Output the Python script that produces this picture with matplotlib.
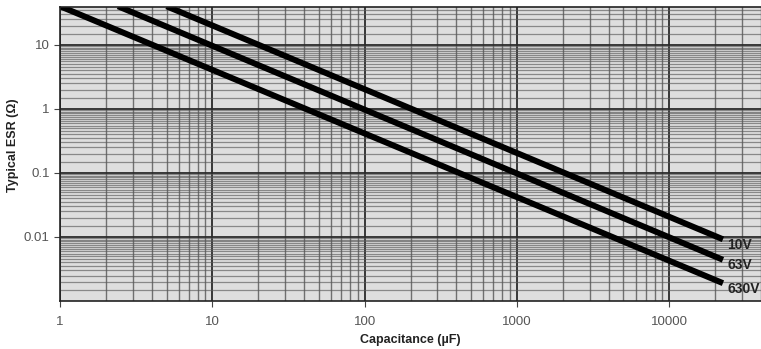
import matplotlib.pyplot as plt
import matplotlib.ticker as ticker
import numpy as np

plt.rcParams['font.family'] = ['Liberation Sans', 'DejaVu Sans']

# ESR falls roughly as 1/C
cap_10v = [5.0, 22500]
esr_10v = [40.0, 0.0092]
cap_63v = [2.4, 22500]
esr_63v = [40.0, 0.0044]
cap_630v = [1.0, 22500]
esr_630v = [40.0, 0.0019]
series_labels = ["10V", "63V", "630V"]

x_ticks = [1, 10, 100, 1000, 10000]
x_ticklabels = ["1", "10", "100", "1000", "10000"]
y_ticks = [0.01, 0.1, 1, 10]
y_ticklabels = ["0.01", "0.1", "1", "10"]

fig = plt.figure(figsize=(7.61, 3.49), dpi=100)
ax = fig.add_axes([0.079, 0.1375, 0.921, 0.8425])
ax.set_facecolor("#dedede")

ax.set_xscale("log")
ax.set_yscale("log")
ax.set_xlim(1, 40000)
ax.set_ylim(0.001, 39)

# grid: decades dark, 2..9 medium, half steps light
ax.xaxis.set_minor_locator(ticker.LogLocator(base=10, subs=np.arange(2, 10)))
ax.yaxis.set_minor_locator(ticker.LogLocator(base=10, subs=np.arange(1.5, 10, 0.5)))
ax.xaxis.set_minor_formatter(ticker.NullFormatter())
ax.yaxis.set_minor_formatter(ticker.NullFormatter())
ax.grid(True, which="major", color="#2a2a2a", lw=1.3)
ax.grid(True, which="minor", axis="x", color="#555555", lw=1.0, alpha=0.8)
ax.grid(True, which="minor", axis="y", color="#5a5a5a", lw=0.9, alpha=0.65)
ax.set_axisbelow(True)

for cap, esr in [(cap_10v, esr_10v), (cap_63v, esr_63v), (cap_630v, esr_630v)]:
    ax.plot(cap, esr, color="black", lw=4.3, solid_capstyle="butt")

for cap, esr, lab in zip([cap_10v, cap_63v, cap_630v], [esr_10v, esr_63v, esr_630v], series_labels):
    ax.annotate(lab, (cap[-1], esr[-1]), xytext=(3, -4), textcoords="offset points",
                fontsize=10, fontweight="bold", color="#222222", va="center", ha="left",
                annotation_clip=False)

ax.set_xticks(x_ticks)
ax.set_xticklabels(x_ticklabels)
ax.set_yticks(y_ticks)
ax.set_yticklabels(y_ticklabels)
ax.tick_params(axis="both", which="major", labelsize=9.5, labelcolor="#555555",
               color="#444444", length=4)
ax.tick_params(axis="x", which="major", pad=7)
ax.tick_params(axis="both", which="minor", length=0)

for side in ["left", "bottom", "top"]:
    ax.spines[side].set_color("#222222")
    ax.spines[side].set_linewidth(1.2)
ax.spines["right"].set_visible(False)

ax.set_xlabel("Capacitance (\u00b5F)", fontsize=9, fontweight="bold", color="#222222", labelpad=4)
ax.set_ylabel("Typical ESR (\u03a9)", fontsize=9, fontweight="bold", color="#222222", labelpad=3)
ax.yaxis.set_label_coords(-0.058, 0.53)

fig.savefig("out.png", dpi=100)
